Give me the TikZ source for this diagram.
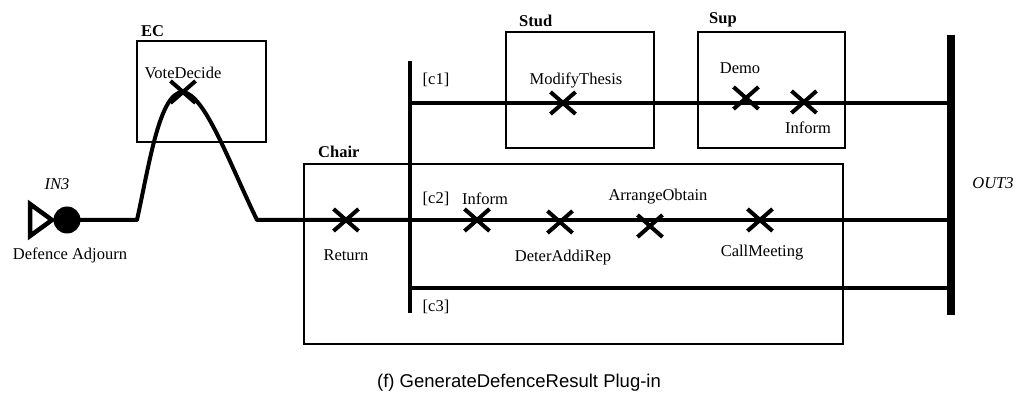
\documentclass[tikz,border=0pt]{standalone}
\usepackage{fontspec}
\setmainfont{Liberation Serif}
\newfontfamily\capfont{Liberation Sans}
\usetikzlibrary{shapes.misc}
\begin{document}
\begin{tikzpicture}[x=1pt,y=-1pt,
  flow/.style={line width=4pt},
  bar/.style={line width=4.5pt},
  outbar/.style={line width=8pt},
  box/.style={draw, line width=1.8pt, inner sep=0pt},
  xmark/.style={cross out, draw, line width=4pt, minimum width=21pt, minimum height=18pt, inner sep=0pt},
  lbl/.style={font=\fontsize{16.5}{18}\selectfont, inner sep=1pt},
  role/.style={font=\bfseries\fontsize{16.5}{18}\selectfont, inner sep=1pt},
  port/.style={font=\itshape\fontsize{16.5}{18}\selectfont, inner sep=1pt}]
\useasboundingbox[fill=white] (0,0) rectangle (1024,411);
% boxes
\node[box, minimum width=129pt, minimum height=101pt, anchor=north west] (ec) at (136,40) {};
\node[box, minimum width=148pt, minimum height=116pt, anchor=north west] (stud) at (505,31) {};
\node[box, minimum width=147pt, minimum height=116pt, anchor=north west] (sup) at (697,31) {};
\node[box, minimum width=539pt, minimum height=180pt, anchor=north west] (chair) at (303,163) {};
\node[role, anchor=south west] (eclbl) at (ec.north west) [xshift=4pt, yshift=2pt] {EC};
\node[role, anchor=south west] (studlbl) at (stud.north west) [xshift=13pt, yshift=3pt] {Stud};
\node[role, anchor=south west] (suplbl) at (sup.north west) [xshift=11pt, yshift=3pt] {Sup};
\node[role, anchor=south west] (chairlbl) at (chair.north west) [xshift=14pt, yshift=4pt] {Chair};
% start symbol
\draw[line width=4.5pt, line join=miter, fill=white] (30,204) -- (52,220) -- (30,236) -- cycle;
\node[circle, fill, minimum size=27pt, inner sep=0pt] (in) at (67,220) {};
\node[port] (inlbl) at (57,184) {IN3};
\node[lbl] (inname) at (70,255) {Defence Adjourn};
% bars
\coordinate (sTop) at (410,61);
\coordinate (sBot) at (410,313);
\draw[bar] (sTop) -- (sBot);
\coordinate (oTop) at (951,35);
\coordinate (oBot) at (951,315);
\draw[outbar] (oTop) -- (oBot);
\node[port] (outlbl) at (993,183) {OUT3};
% crosses
\node[xmark] (vote) at (183,92) {};
\node[xmark] (ret) at (346,220) {};
\node[xmark] (modify) at (563,103) {};
\node[xmark] (demo) at (746,98) {};
\node[xmark] (inform1) at (804,102) {};
\node[xmark] (inform2) at (477,220) {};
\node[xmark] (deter) at (560,222) {};
\node[xmark] (arrange) at (650,226) {};
\node[xmark] (call) at (760,220) {};
% labels
\node[lbl] at (183,73) {VoteDecide};
\node[lbl] at (346,255) {Return};
\node[lbl] at (576,80) {ModifyThesis};
\node[lbl] at (740,68) {Demo};
\node[lbl] at (808,128) {Inform};
\node[lbl] at (485,199) {Inform};
\node[lbl] at (563,258) {DeterAddiRep};
\node[lbl] at (658,197) {ArrangeObtain};
\node[lbl] at (762,253) {CallMeeting};
\node[lbl] at (436,80) {[c1]};
\node[lbl] at (436,199) {[c2]};
\node[lbl] at (436,307) {[c3]};
% flows
\coordinate (up) at (137,220);
\coordinate (down) at (257,220);
\draw[flow, line join=round] (in.center) -- (up) .. controls (150,160) and (160,92) .. (vote.center)
  .. controls (205,95) and (228,160) .. (down) -- (ret.center) -- (410,220);
\draw[flow] (410,103) -- (951,103);
\draw[flow] (410,220) -- (951,220);
\draw[flow] (410,288) -- (951,288);
% caption
\node[font=\capfont\fontsize{18.5}{20}\selectfont] (cap) at (519,383) {(f) GenerateDefenceResult Plug-in};
\end{tikzpicture}
\end{document}
